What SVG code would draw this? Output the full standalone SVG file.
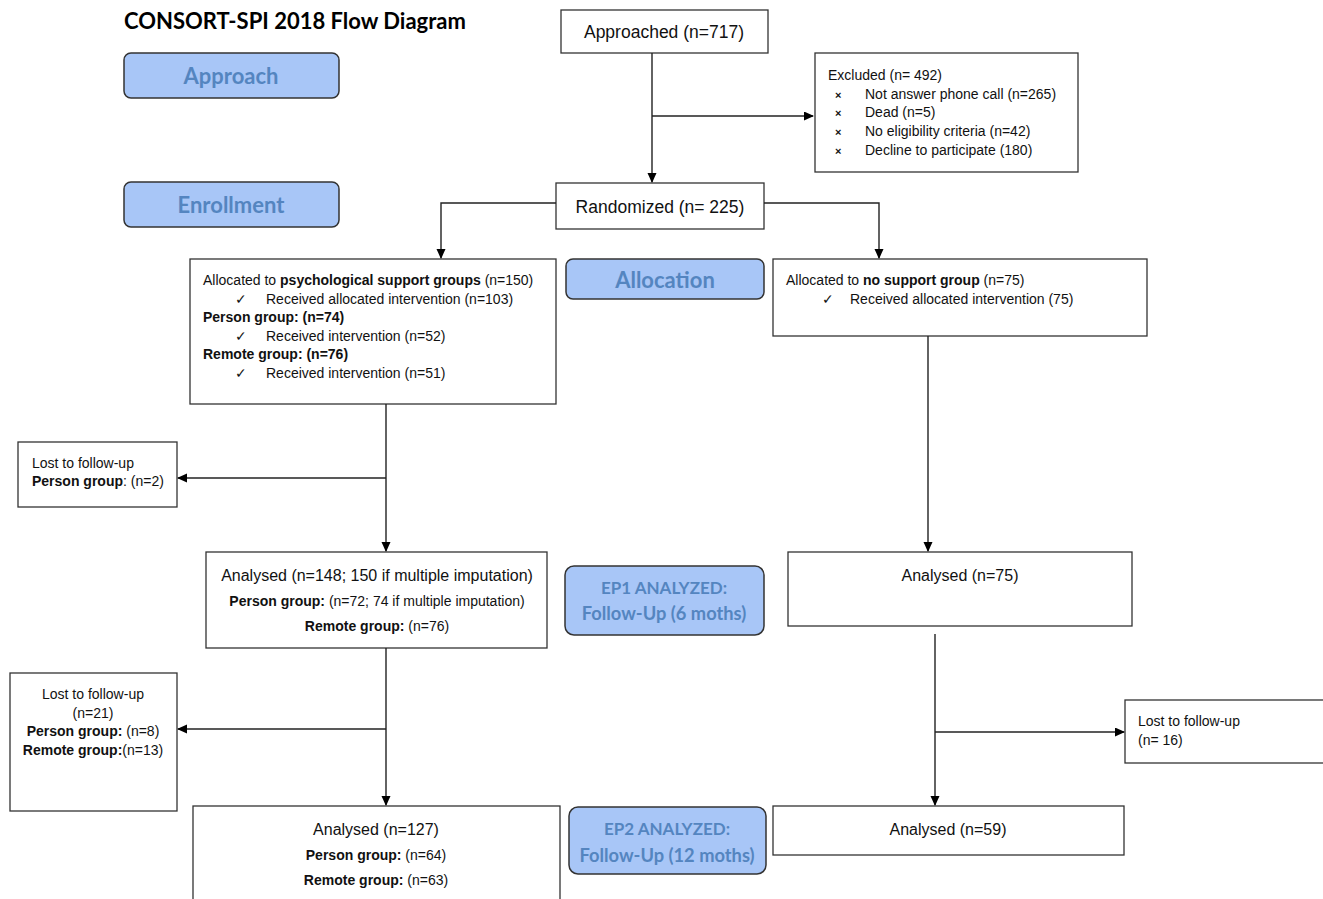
<svg xmlns="http://www.w3.org/2000/svg" width="1323" height="899" viewBox="0 0 1323 899">
<defs>
<marker id="ah" markerWidth="10" markerHeight="10" refX="9" refY="4.5" orient="auto" markerUnits="userSpaceOnUse">
<path d="M0,0 L10,4.5 L0,9 Z" fill="#000"/>
</marker>
<style>
.box{fill:#fff;stroke:#333;stroke-width:1.3}
.stage{fill:#a8c6f7;stroke:#333;stroke-width:1.5}
.stxt{font-family:Lato,"Open Sans",sans-serif;font-weight:bold;font-size:22px;fill:#5485c0;text-anchor:middle}
.ep1{font-size:17px}
.ep2{font-size:18.3px}
.t{font-family:"Liberation Sans",Arial,sans-serif;font-size:14px;fill:#111}
.tm{font-family:"Liberation Sans",Arial,sans-serif;font-size:17.5px;fill:#111}
.tn{font-family:"Liberation Sans",Arial,sans-serif;font-size:16px;fill:#111}
.x{font-size:11px;font-weight:bold}
.c{text-anchor:middle}
.b{font-weight:bold}
.con{fill:none;stroke:#222;stroke-width:1.4}
</style>
</defs>
<rect width="1323" height="899" fill="#fff"/>
<text x="124" y="29" font-family="Lato,'Open Sans',sans-serif" font-weight="bold" font-size="22" fill="#000">CONSORT-SPI 2018 Flow Diagram</text>

<g id="stage-approach"><rect class="stage" x="124" y="53" width="215" height="45" rx="7"/><text class="stxt" x="231" y="84">Approach</text></g>
<g id="stage-enrollment"><rect class="stage" x="124" y="182" width="215" height="45" rx="7"/><text class="stxt" x="231" y="213">Enrollment</text></g>
<g id="stage-allocation"><rect class="stage" x="566" y="259" width="198" height="40" rx="7"/><text class="stxt" x="665" y="288">Allocation</text></g>
<g id="stage-ep1"><rect class="stage" x="565" y="566" width="199" height="69" rx="9"/><text class="stxt ep1" x="664" y="594">EP1 ANALYZED:</text><text class="stxt ep2" x="664" y="620">Follow-Up (6 moths)</text></g>
<g id="stage-ep2"><rect class="stage" x="569" y="807" width="197" height="67" rx="9"/><text class="stxt ep1" x="667" y="835">EP2 ANALYZED:</text><text class="stxt ep2" x="667" y="862">Follow-Up (12 moths)</text></g>

<g id="approached"><rect class="box" x="561" y="10" width="207" height="43"/><text class="tm c" x="664" y="38">Approached (n=717)</text></g>
<g id="excluded"><rect class="box" x="815" y="53" width="263" height="119"/>
<text class="t" x="828" y="80">Excluded (n= 492)</text>
<text class="t x" x="835" y="99">×</text><text class="t" x="865" y="99">Not answer phone call (n=265)</text>
<text class="t x" x="835" y="117">×</text><text class="t" x="865" y="117">Dead (n=5)</text>
<text class="t x" x="835" y="136">×</text><text class="t" x="865" y="136">No eligibility criteria (n=42)</text>
<text class="t x" x="835" y="155">×</text><text class="t" x="865" y="155">Decline to participate (180)</text>
</g>
<g id="randomized"><rect class="box" x="556" y="183" width="208" height="46"/><text class="tm c" x="660" y="213">Randomized (n= 225)</text></g>

<g id="alloc-psych"><rect class="box" x="190" y="259" width="366" height="145"/>
<text class="t" x="203" y="285">Allocated to <tspan class="b">psychological support groups</tspan> (n=150)</text>
<text class="t" x="235" y="304">✓</text><text class="t" x="266" y="304">Received allocated intervention (n=103)</text>
<text class="t b" x="203" y="322">Person group: (n=74)</text>
<text class="t" x="235" y="341">✓</text><text class="t" x="266" y="341">Received intervention (n=52)</text>
<text class="t b" x="203" y="359">Remote group: (n=76)</text>
<text class="t" x="235" y="378">✓</text><text class="t" x="266" y="378">Received intervention (n=51)</text>
</g>
<g id="alloc-none"><rect class="box" x="773" y="259" width="374" height="77"/>
<text class="t" x="786" y="285">Allocated to <tspan class="b">no support group</tspan> (n=75)</text>
<text class="t" x="822" y="304">✓</text><text class="t" x="850" y="304">Received allocated intervention (75)</text>
</g>

<g id="lost1"><rect class="box" x="18" y="442" width="159" height="65"/>
<text class="t" x="32" y="468">Lost to follow-up</text>
<text class="t" x="32" y="486"><tspan class="b">Person group</tspan>: (n=2)</text>
</g>

<g id="analysed1-left"><rect class="box" x="206" y="552" width="341" height="96"/>
<text class="tn c" x="377" y="581">Analysed (n=148; 150 if multiple imputation)</text>
<text class="t c" x="377" y="606"><tspan class="b">Person group:</tspan> (n=72; 74 if multiple imputation)</text>
<text class="t c" x="377" y="631"><tspan class="b">Remote group:</tspan> (n=76)</text>
</g>
<g id="analysed1-right"><rect class="box" x="788" y="552" width="344" height="74"/>
<text class="tn c" x="960" y="581">Analysed (n=75)</text>
</g>

<g id="lost2"><rect class="box" x="10" y="673" width="167" height="138"/>
<text class="t c" x="93" y="699">Lost to follow-up</text>
<text class="t c" x="93" y="718">(n=21)</text>
<text class="t c" x="93" y="736"><tspan class="b">Person group:</tspan> (n=8)</text>
<text class="t c" x="93" y="755"><tspan class="b">Remote group:</tspan>(n=13)</text>
</g>
<g id="lost3"><rect class="box" x="1125" y="700" width="205" height="63"/>
<text class="t" x="1138" y="726">Lost to follow-up</text>
<text class="t" x="1138" y="745">(n= 16)</text>
</g>

<g id="analysed2-left"><rect class="box" x="193" y="806" width="367" height="110"/>
<text class="tn c" x="376" y="835">Analysed (n=127)</text>
<text class="t c" x="376" y="860"><tspan class="b">Person group:</tspan> (n=64)</text>
<text class="t c" x="376" y="885"><tspan class="b">Remote group:</tspan> (n=63)</text>
</g>
<g id="analysed2-right"><rect class="box" x="773" y="806" width="351" height="49"/>
<text class="tn c" x="948" y="835">Analysed (n=59)</text>
</g>

<g id="connectors">
<path class="con" d="M652,53 V182" marker-end="url(#ah)"/>
<path class="con" d="M652,116 H813" marker-end="url(#ah)"/>
<path class="con" d="M556,203 H441 V258" marker-end="url(#ah)"/>
<path class="con" d="M764,203 H879 V258" marker-end="url(#ah)"/>
<path class="con" d="M386,404 V551" marker-end="url(#ah)"/>
<path class="con" d="M386,478 H178" marker-end="url(#ah)"/>
<path class="con" d="M928,336 V551" marker-end="url(#ah)"/>
<path class="con" d="M386,648 V805" marker-end="url(#ah)"/>
<path class="con" d="M386,729 H178" marker-end="url(#ah)"/>
<path class="con" d="M935,634 V805" marker-end="url(#ah)"/>
<path class="con" d="M935,732 H1124" marker-end="url(#ah)"/>
</g>
</svg>
